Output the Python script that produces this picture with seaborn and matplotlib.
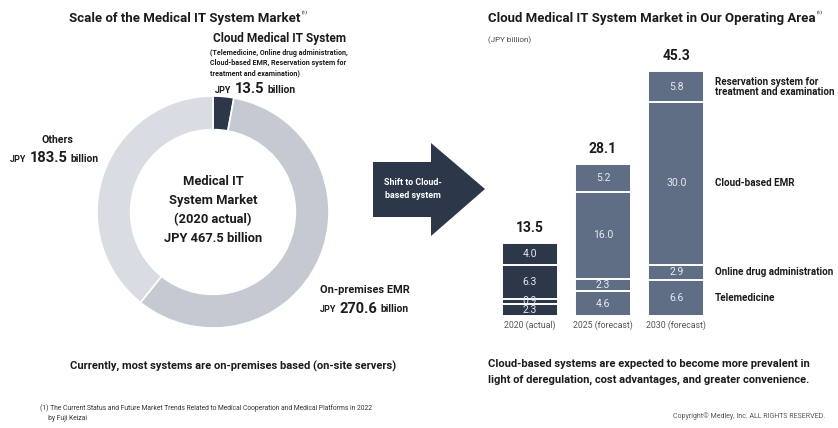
import matplotlib
matplotlib.use("Agg")
import matplotlib.pyplot as plt
from matplotlib.patches import Polygon
import pandas as pd
import seaborn as sns

# ── data ──
donut_labels = ["Cloud Medical IT System", "On-premises EMR", "Others"]
donut_values = [13.5, 270.6, 183.5]

years = ["2020 (actual)", "2025 (forecast)", "2030 (forecast)"]
segments = ["Telemedicine", "Online drug administration", "Cloud-based EMR",
            "Reservation system for\ntreatment and examination"]
telemedicine = [2.3, 4.6, 6.6]
online_drug = [0.9, 2.3, 2.9]
cloud_emr = [6.3, 16.0, 30.0]
reservation = [4.0, 5.2, 5.8]
totals = [13.5, 28.1, 45.3]

# ── colours ──
DARK = "#2c3749"
SLATE = "#5f6e85"
ONPREM = "#c4c9d2"
OTHERS = "#d9dce2"
TXT = "#1b1b1b"
SEG_TXT = "#e9ebef"

W, H = 838, 428
sns.set_theme(style="white")
plt.rcParams["font.family"] = ["Roboto", "DejaVu Sans"]

fig = plt.figure(figsize=(W / 100, H / 100), dpi=100)
fig.patch.set_facecolor("white")


def px_axes(left, top, width, height):
    return fig.add_axes([left / W, (H - top - height) / H, width / W, height / H])


# ── donut ──
ax_d = px_axes(97, 96, 232, 232)
ax_d.pie(donut_values, colors=[DARK, ONPREM, OTHERS], startangle=90,
         counterclock=False, radius=1.0,
         wedgeprops=dict(width=0.29, edgecolor="white", linewidth=1.2))
ax_d.set_xlim(-1, 1)
ax_d.set_ylim(-1, 1)
ax_d.set_aspect("equal")
ax_d.axis("off")

# ── stacked bars (cumulative layers drawn back to front) ──
df = pd.DataFrame({
    "year": years,
    "tele": telemedicine,
    "drug": online_drug,
    "emr": cloud_emr,
    "resv": reservation,
})
layers = ["tele", "drug", "emr", "resv"]
cum = df[layers].cumsum(axis=1).assign(year=df["year"])

ax_b = px_axes(493, 40, 220, 276)
bar_pal = {years[0]: DARK, years[1]: SLATE, years[2]: SLATE}
for col in layers[::-1]:
    sns.barplot(data=cum, x="year", y=col, hue="year",
                palette=bar_pal, order=years, width=0.765, saturation=1,
                edgecolor="white", linewidth=1.4, legend=False, ax=ax_b)

ax_b.set_xlim(-0.5, 2.5)
ax_b.set_ylim(0, 276 / 5.41)
for s in ax_b.spines.values():
    s.set_visible(False)
ax_b.set_yticks([])
ax_b.set_xlabel("")
ax_b.set_ylabel("")
ax_b.tick_params(axis="x", length=0, pad=3, labelsize=6.3, labelcolor="#555555")

for i in range(len(years)):
    base = 0.0
    for col in layers:
        v = df.loc[i, col]
        ax_b.text(i, base + v / 2, f"{v:.1f}", ha="center", va="center",
                  fontsize=7.5, color=SEG_TXT)
        base += v
    ax_b.text(i, totals[i] + 2.7, f"{totals[i]:.1f}", ha="center",
              va="center", fontsize=10, fontweight="bold", color=TXT)

# segment names beside the 2030 bar
base = 0.0
for col, name in zip(layers, segments):
    v = df.loc[2, col]
    ax_b.text(2.527, base + v / 2, name, ha="left", va="center", fontsize=7.1,
              fontweight="bold", color=TXT, linespacing=1.0, clip_on=False)
    base += v

# ── overlay text / arrow (pixel coordinates, y down) ──
ax_t = px_axes(0, 0, W, H)
ax_t.set_xlim(0, W)
ax_t.set_ylim(H, 0)
ax_t.axis("off")
ax_t.patch.set_visible(False)
renderer = fig.canvas.get_renderer()


def right_edge(t):
    return t.get_window_extent(renderer).x1


def sup_title(x, y, s):
    t = ax_t.text(x, y, s, fontsize=9.5, fontweight="bold", color=TXT, va="center")
    ax_t.text(right_edge(t) + 1, y - 3, "⁽¹⁾", fontsize=5, color=TXT, va="center")


sup_title(69, 18, "Scale of the Medical IT System Market")
sup_title(488, 18, "Cloud Medical IT System Market in Our Operating Area")
ax_t.text(488, 40, "(JPY billion)", fontsize=5.8, color="#444444", va="center")

# cloud annotation
ax_t.text(213, 38, "Cloud Medical IT System", fontsize=8.6, fontweight="bold",
          color=TXT, va="center")
ax_t.text(210, 63, "(Telemedicine, Online drug administration,\n"
          "Cloud-based EMR, Reservation system for\n"
          "treatment and examination)", fontsize=5.1, fontweight="bold",
          color=TXT, va="center", linespacing=1.4)


def money(x, y, num):
    t = ax_t.text(x, y + 1, "JPY", fontsize=6.6, fontweight="bold", color=TXT,
                  va="center")
    t = ax_t.text(right_edge(t) + 3.5, y, num, fontsize=10.5, fontweight="bold",
                  color=TXT, va="center")
    ax_t.text(right_edge(t) + 3, y + 0.5, "billion", fontsize=7.4,
              fontweight="bold", color=TXT, va="center")


money(215, 89, "13.5")
ax_t.text(57, 140, "Others", fontsize=7.6, fontweight="bold", color=TXT,
          va="center", ha="center")
money(10, 158, "183.5")
ax_t.text(320, 290, "On-premises EMR", fontsize=7.9, fontweight="bold",
          color=TXT, va="center")
money(320, 309, "270.6")

# donut centre
ax_t.text(213, 210, "Medical IT\nSystem Market\n(2020 actual)\nJPY 467.5 billion",
          ha="center", va="center", fontsize=9.3, fontweight="bold",
          color=TXT, linespacing=1.6)

# arrow
arrow = Polygon([(373, 162), (431, 162), (431, 143), (485, 189),
                 (431, 236), (431, 217), (373, 217)],
                closed=True, facecolor=DARK, edgecolor="none")
ax_t.add_patch(arrow)
ax_t.text(413, 189, "Shift to Cloud-\nbased system", ha="center", va="center",
          fontsize=6.4, fontweight="bold", color="white", linespacing=1.6)

# bottom notes
ax_t.text(70, 366, "Currently, most systems are on-premises based (on-site servers)",
          fontsize=8.0, fontweight="bold", color=TXT, va="center")
ax_t.text(488, 372, "Cloud-based systems are expected to become more prevalent in\n"
          "light of deregulation, cost advantages, and greater convenience.",
          fontsize=8.0, fontweight="bold", color=TXT, va="center",
          linespacing=1.8)
ax_t.text(40, 413, "(1) The Current Status and Future Market Trends Related to "
          "Medical Cooperation and Medical Platforms in 2022\n     by Fuji Keizai",
          fontsize=4.9, color="#333333", va="center", linespacing=1.5)
ax_t.text(825, 416, "Copyright© Medley, Inc. ALL RIGHTS RESERVED.", fontsize=5,
          color="#555555", va="center", ha="right")

fig.savefig("out.png", dpi=100, facecolor="white")
